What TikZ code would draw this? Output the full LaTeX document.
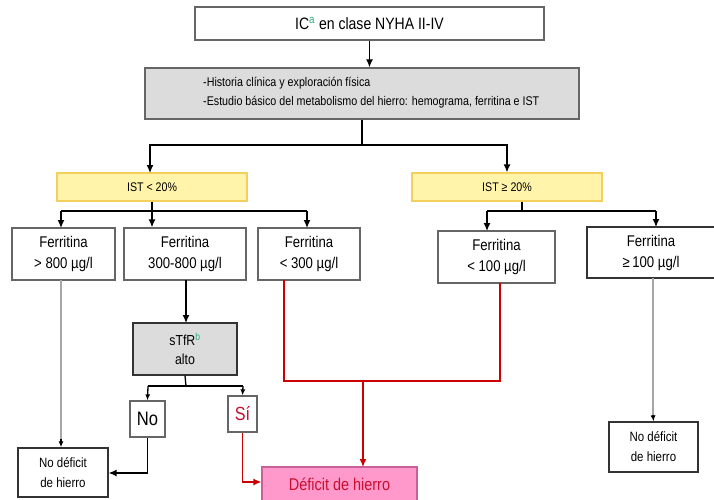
\documentclass[tikz,border=0pt]{standalone}
\usepackage{fontspec}
\setmainfont{Liberation Sans}[FakeStretch=0.85]
\usetikzlibrary{arrows.meta}
\definecolor{supgreen}{HTML}{2EAF7D}
\definecolor{yfill}{HTML}{FFF4AA}
\definecolor{ydraw}{HTML}{F2CF5E}
\definecolor{gfill}{HTML}{DCDCDC}
\definecolor{redline}{HTML}{CC0000}
\definecolor{pinkfill}{HTML}{FF99CC}
\definecolor{pinkdraw}{HTML}{C8609A}
\definecolor{deftext}{HTML}{C8102E}
\tikzset{
  box/.style={draw=gray!80!black, line width=1.3pt, fill=white, inner sep=0pt, align=center},
  ybox/.style={draw=ydraw, line width=1.3pt, fill=yfill, inner sep=0pt, align=center, font=\fontsize{12.5}{15}\selectfont},
  fbox/.style={box, font=\fontsize{15.5}{21}\selectfont},
  ndbox/.style={box, draw=black!80, font=\fontsize{13.5}{20}\selectfont},
  arr/.style={line width=1.3pt, -{Latex[length=8pt,width=7pt]}},
  sarr/.style={line width=1.3pt, -{Latex[length=6pt,width=5pt]}},
  ln/.style={line width=1.3pt},
}
\begin{document}
\begin{tikzpicture}[x=1pt,y=-1pt]
\useasboundingbox (0,0) rectangle (714,500);
\clip (0,0) rectangle (714,500);
% top
\node[box, minimum width=349pt, minimum height=33pt, font=\fontsize{16.5}{19}\selectfont] (top) at (369.5,23.5) {IC\textsuperscript{\color{supgreen}a} en clase NYHA II-IV};
\node[draw=gray!80!black, line width=1.3pt, fill=gfill, minimum width=434pt, minimum height=51pt, inner sep=0pt] (gray) at (362,93.5) {};
\node[anchor=west, align=left, inner sep=0pt, font=\fontsize{12.6}{19}\selectfont] (graytext) at (203,93) {-Historia clínica y exploración física\\-Estudio básico del metabolismo del hierro: hemograma, ferritina e IST};
\draw[arr] (top.south) -- (top.south |- gray.north);
% IST
\node[ybox, minimum width=190pt, minimum height=28pt] (y1) at (152,187) {IST < 20\%};
\node[ybox, minimum width=190pt, minimum height=28pt] (y2) at (507,187) {IST \char"2265\ 20\%};
\coordinate (j1) at (362,145);
\draw[ln] (gray.south) -- (j1);
\draw[arr] (j1) -| (150,173);
\draw[arr] (j1) -| (y2.north);
% ferritina
\node[fbox, minimum width=103pt, minimum height=52pt] (f1) at (63.5,254) {Ferritina\\> 800 µg/l};
\node[fbox, minimum width=122pt, minimum height=52pt] (f2) at (185,254) {Ferritina\\300-800 µg/l};
\node[fbox, minimum width=102pt, minimum height=52pt] (f3) at (309,254) {Ferritina\\< 300 µg/l};
\node[fbox, minimum width=117pt, minimum height=52pt] (f4) at (496.5,257) {Ferritina\\< 100 µg/l};
\node[fbox, minimum width=140pt, minimum height=51pt, draw=black!80] (f5) at (657,252.5) {\hspace*{-6pt}Ferritina\hspace*{6pt}\\\hspace*{-6pt}\char"2265\,100 µg/l\hspace*{6pt}};
\coordinate (j2) at (152,211);
\draw[ln] (y1.south) -- (j2);
\draw[arr] (61,211) -- (61,228);
\draw[ln] (61,211) -- (307,211);
\draw[arr] (j2) -- (j2 |- f2.north);
\draw[arr] (307,211) -- (307,228);
\coordinate (j3) at (522,211);
\draw[ln] (j3 |- y2.south) -- (j3);
\draw[ln] (487,211) -- (656,211);
\draw[arr] (487,211) -- (487,231);
\draw[arr] (656,211) -- (656,227);
% sTfR branch
\node[draw=black!80, line width=1.3pt, fill=gfill, minimum width=104pt, minimum height=52pt, inner sep=0pt, align=center, font=\fontsize{14.5}{19}\selectfont] (stfr) at (185,349) {sTfR\textsuperscript{\color{supgreen}b}\\alto};
\draw[arr] (186,280) -- (186,323);
\node[box, minimum width=35pt, minimum height=36pt, font=\fontsize{19.5}{21}\selectfont] (no) at (147.5,419) {No};
\node[box, minimum width=29pt, minimum height=36pt, font=\fontsize{19}{21}\selectfont, text=deftext] (si) at (242.5,414) {Sí};
\coordinate (j4) at (186,386);
\draw[ln] (stfr.south) -- (j4);
\draw[ln] (148,386) -- (243,386);
\draw[sarr] (148,386) -- (no.north);
\draw[sarr] (243,386) -- (si.north);
% results
\node[ndbox, minimum width=90pt, minimum height=49pt] (nd1) at (63,472.5) {No déficit\\de hierro};
\node[ndbox, minimum width=89pt, minimum height=50pt] (nd2) at (653.5,447) {No déficit\\de hierro};
\node[draw=pinkdraw, line width=1.3pt, fill=pinkfill, minimum width=155pt, minimum height=38pt, inner sep=0pt, text=deftext, font=\fontsize{17}{19}\selectfont] (def) at (339.5,486) {\raisebox{4pt}{Déficit de hierro}};
\draw[ln, draw=gray!70] (61,280) -- (61,440);
\draw[sarr] (61,439) -- (nd1.north -| 61,0);
\draw[arr] (no.south) |- (nd1.east |- 0,473);
\draw[arr, draw=redline, -{Latex[length=8pt,width=7pt,fill=redline]}] (si.south) |- (def.west |- 0,482);
\draw[ln, draw=gray!70] (653,278) -- (653,416);
\draw[sarr] (653,415) -- (nd2.north);
% red connector
\draw[ln, draw=redline] (284,280) |- (500,381) -- (500,283);
\draw[arr, draw=redline, -{Latex[length=8pt,width=7pt,fill=redline]}] (363,381) -- (363,467);
\end{tikzpicture}
\end{document}
